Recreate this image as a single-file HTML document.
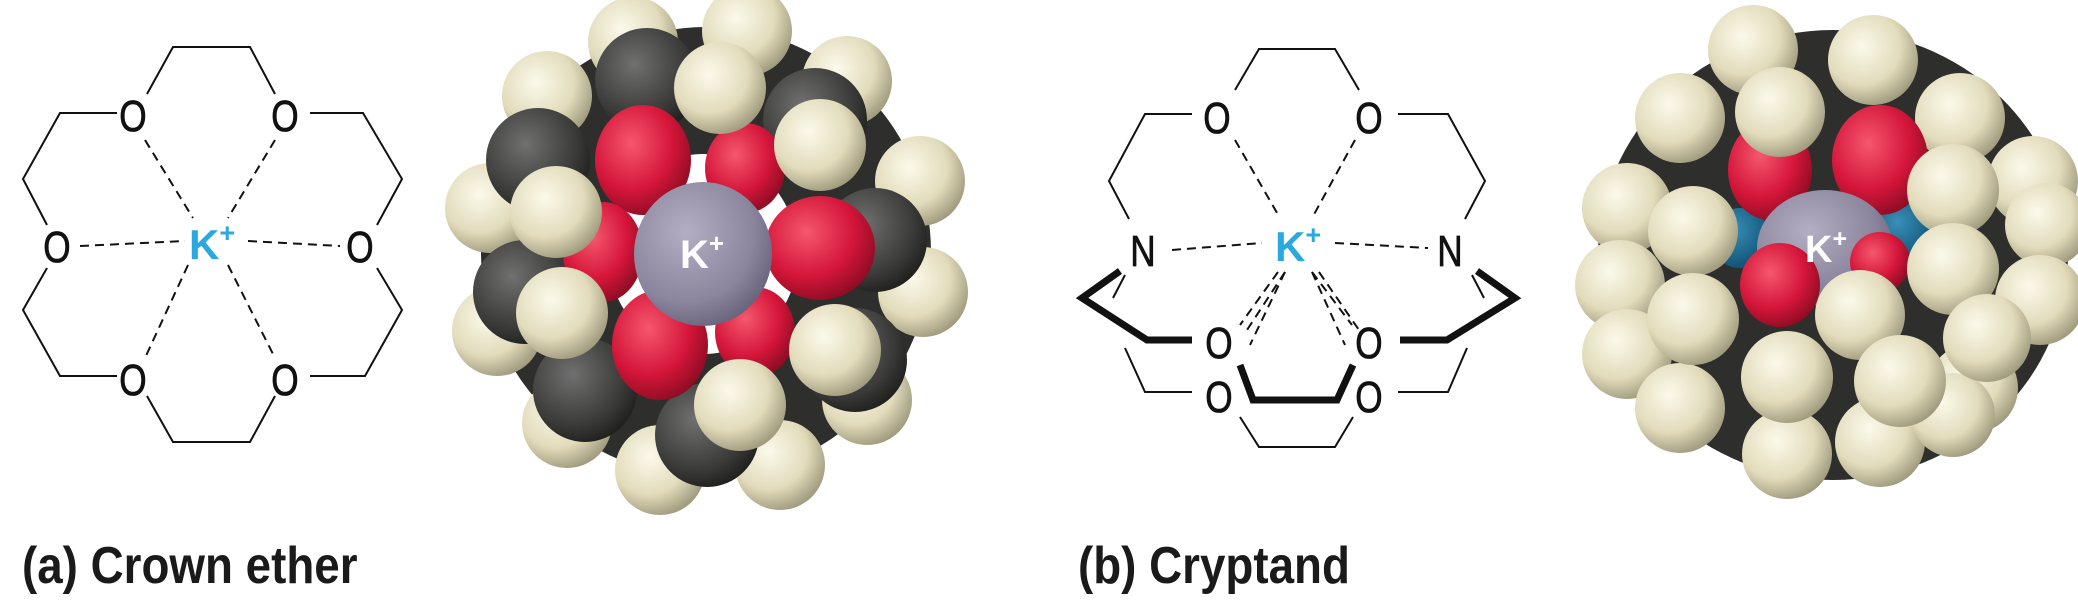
<!DOCTYPE html>
<html><head><meta charset="utf-8"><style>
html,body{margin:0;padding:0;background:#fff;width:2078px;height:600px;overflow:hidden}
svg{display:block}
.t{font-family:"Liberation Sans",sans-serif;font-size:44px;fill:#111;stroke:#111;stroke-width:0.8}
.k{font-family:"Liberation Sans",sans-serif;font-size:42px;font-weight:bold;fill:#29a9e0}
.lab{font-family:"Liberation Sans",sans-serif;font-size:52px;font-weight:bold;fill:#1a1a1a}
</style></head><body>
<svg width="2078" height="600" viewBox="0 0 2078 600" xmlns="http://www.w3.org/2000/svg">
<defs>
<radialGradient id="gH" cx="0.38" cy="0.35" r="0.7"><stop offset="0" stop-color="#fbf9ea"/><stop offset="0.6" stop-color="#e2dcbc"/><stop offset="1" stop-color="#9c967a"/></radialGradient>
<radialGradient id="gC" cx="0.38" cy="0.35" r="0.7"><stop offset="0" stop-color="#707070"/><stop offset="0.7" stop-color="#3a3a38"/><stop offset="1" stop-color="#1e1e1d"/></radialGradient>
<radialGradient id="gO" cx="0.38" cy="0.35" r="0.7"><stop offset="0" stop-color="#f5576e"/><stop offset="0.6" stop-color="#d5163a"/><stop offset="1" stop-color="#8a0c22"/></radialGradient>
<radialGradient id="gK" cx="0.38" cy="0.35" r="0.7"><stop offset="0" stop-color="#b4aec4"/><stop offset="0.7" stop-color="#8a859c"/><stop offset="1" stop-color="#66627a"/></radialGradient>
<radialGradient id="gN" cx="0.38" cy="0.35" r="0.7"><stop offset="0" stop-color="#3a8fb8"/><stop offset="1" stop-color="#0d4f72"/></radialGradient>
</defs>

<!-- Crown ether structure -->
<g fill="none" stroke="#111" stroke-width="2">
<polyline points="147,94 173,47 250,47 275,94"/>
<polyline points="117,113 60,113 23,179 47,225"/>
<polyline points="310,113 363,113 402,179 377,225"/>
<polyline points="47,268 23,310 60,376 117,376"/>
<polyline points="377,268 402,310 365,376 310,376"/>
<polyline points="147,396 173,442 250,442 275,396"/>
</g>
<g fill="none" stroke="#111" stroke-width="2" stroke-dasharray="9,6">
<line x1="80" y1="246" x2="185" y2="241"/>
<line x1="248" y1="241" x2="340" y2="246"/>
<line x1="145" y1="140" x2="193" y2="218"/>
<line x1="275" y1="140" x2="228" y2="218"/>
<line x1="188" y1="265" x2="145" y2="358"/>
<line x1="228" y1="265" x2="275" y2="358"/>
</g>
<g class="t" text-anchor="middle">
<text x="133" y="131" transform="translate(133,0) scale(0.8,1) translate(-133,0)">O</text>
<text x="285" y="131" transform="translate(285,0) scale(0.8,1) translate(-285,0)">O</text>
<text x="57" y="262" transform="translate(57,0) scale(0.8,1) translate(-57,0)">O</text>
<text x="360" y="262" transform="translate(360,0) scale(0.8,1) translate(-360,0)">O</text>
<text x="133" y="395" transform="translate(133,0) scale(0.8,1) translate(-133,0)">O</text>
<text x="285" y="395" transform="translate(285,0) scale(0.8,1) translate(-285,0)">O</text>
</g>
<text class="k" x="189" y="259">K<tspan font-size="27" dy="-17">+</tspan></text>

<!-- Crown ether model -->
<g>
<circle cx="706" cy="252" r="225" fill="#2e2e2c"/>
<circle cx="633" cy="42" r="45" fill="url(#gH)"/><circle cx="747" cy="31" r="45" fill="url(#gH)"/>
<circle cx="847" cy="81" r="45" fill="url(#gH)"/><circle cx="920" cy="181" r="45" fill="url(#gH)"/>
<circle cx="923" cy="292" r="45" fill="url(#gH)"/><circle cx="867" cy="400" r="45" fill="url(#gH)"/>
<circle cx="780" cy="465" r="45" fill="url(#gH)"/><circle cx="660" cy="470" r="45" fill="url(#gH)"/>
<circle cx="567" cy="423" r="45" fill="url(#gH)"/><circle cx="497" cy="331" r="45" fill="url(#gH)"/>
<circle cx="490" cy="208" r="45" fill="url(#gH)"/><circle cx="547" cy="96" r="45" fill="url(#gH)"/>
<circle cx="647" cy="80" r="52" fill="url(#gC)"/><circle cx="815" cy="120" r="52" fill="url(#gC)"/>
<circle cx="538" cy="160" r="52" fill="url(#gC)"/><circle cx="525" cy="292" r="52" fill="url(#gC)"/>
<circle cx="585" cy="390" r="52" fill="url(#gC)"/><circle cx="707" cy="435" r="52" fill="url(#gC)"/>
<circle cx="855" cy="360" r="52" fill="url(#gC)"/><circle cx="875" cy="240" r="52" fill="url(#gC)"/>
<ellipse cx="703" cy="254" rx="95" ry="100" fill="#fff"/>
<ellipse cx="643" cy="160" rx="48" ry="55" fill="url(#gO)"/><ellipse cx="745" cy="168" rx="40" ry="45" fill="url(#gO)"/>
<ellipse cx="603" cy="252" rx="40" ry="50" fill="url(#gO)"/><ellipse cx="820" cy="248" rx="55" ry="52" fill="url(#gO)"/>
<ellipse cx="660" cy="345" rx="48" ry="55" fill="url(#gO)"/><ellipse cx="755" cy="332" rx="40" ry="45" fill="url(#gO)"/>
<ellipse cx="703" cy="254" rx="69" ry="72" fill="url(#gK)"/>
<circle cx="720" cy="88" r="46" fill="url(#gH)"/><circle cx="820" cy="145" r="46" fill="url(#gH)"/>
<circle cx="556" cy="212" r="46" fill="url(#gH)"/><circle cx="562" cy="313" r="46" fill="url(#gH)"/>
<circle cx="835" cy="350" r="46" fill="url(#gH)"/><circle cx="740" cy="405" r="46" fill="url(#gH)"/>
<text x="680" y="268" font-family="Liberation Sans,sans-serif" font-weight="bold" font-size="40" fill="#fff">K<tspan font-size="26" dy="-16">+</tspan></text>
</g>

<!-- Cryptand structure -->
<g fill="none" stroke="#111" stroke-width="2">
<polyline points="1235,90 1259,49 1335,49 1359,90"/>
<polyline points="1192,114 1145,114 1109,181 1129,219"/>
<polyline points="1398,114 1448,114 1485,181 1465,219"/>
<polyline points="1125,348 1145,392 1192,392"/>
<polyline points="1467,348 1448,392 1398,392"/>
<polyline points="1240,417 1259,447 1335,447 1353,417"/>
<line x1="1125" y1="275" x2="1113" y2="298"/>
<line x1="1472" y1="275" x2="1484" y2="298"/>
</g>
<g fill="none" stroke="#111" stroke-width="7" stroke-linejoin="miter">
<polyline points="1120,271 1082,298 1147,340 1192,340"/>
<polyline points="1477,271 1515,298 1447,340 1400,340"/>
<polyline points="1240,365 1253,400 1337,400 1353,365"/>
</g>
<g fill="none" stroke="#111" stroke-width="2" stroke-dasharray="9,6">
<line x1="1172" y1="250" x2="1262" y2="243"/>
<line x1="1335" y1="243" x2="1428" y2="248"/>
<line x1="1235" y1="140" x2="1280" y2="218"/>
<line x1="1355" y1="140" x2="1312" y2="218"/>
<line x1="1278" y1="272" x2="1240" y2="325"/>
<line x1="1285" y1="272" x2="1247" y2="330"/>
<line x1="1312" y1="272" x2="1352" y2="325"/>
<line x1="1319" y1="272" x2="1359" y2="330"/>
<line x1="1285" y1="272" x2="1250" y2="345"/>
<line x1="1312" y1="272" x2="1345" y2="345"/>
</g>
<g class="t" text-anchor="middle">
<text x="1217" y="133" transform="translate(1217,0) scale(0.8,1) translate(-1217,0)">O</text>
<text x="1369" y="133" transform="translate(1369,0) scale(0.8,1) translate(-1369,0)">O</text>
<text x="1143" y="266" transform="translate(1143,0) scale(0.8,1) translate(-1143,0)">N</text>
<text x="1450" y="266" transform="translate(1450,0) scale(0.8,1) translate(-1450,0)">N</text>
<text x="1219" y="358" transform="translate(1219,0) scale(0.8,1) translate(-1219,0)">O</text>
<text x="1369" y="358" transform="translate(1369,0) scale(0.8,1) translate(-1369,0)">O</text>
<text x="1219" y="412" transform="translate(1219,0) scale(0.8,1) translate(-1219,0)">O</text>
<text x="1369" y="412" transform="translate(1369,0) scale(0.8,1) translate(-1369,0)">O</text>
</g>
<text class="k" x="1275" y="261">K<tspan font-size="27" dy="-17">+</tspan></text>

<!-- Cryptand model -->
<g>
<ellipse cx="1833" cy="255" rx="235" ry="225" fill="#2e2e2c"/>
<circle cx="1753" cy="50" r="45" fill="url(#gH)"/><circle cx="1873" cy="60" r="45" fill="url(#gH)"/>
<circle cx="1960" cy="118" r="45" fill="url(#gH)"/><circle cx="1680" cy="118" r="45" fill="url(#gH)"/>
<circle cx="2033" cy="181" r="45" fill="url(#gH)"/><circle cx="2047" cy="225" r="42" fill="url(#gH)"/>
<circle cx="2040" cy="300" r="45" fill="url(#gH)"/><circle cx="1627" cy="208" r="45" fill="url(#gH)"/>
<circle cx="1620" cy="285" r="45" fill="url(#gH)"/><circle cx="1627" cy="354" r="45" fill="url(#gH)"/>
<circle cx="1680" cy="408" r="45" fill="url(#gH)"/><circle cx="1787" cy="454" r="45" fill="url(#gH)"/>
<circle cx="1880" cy="442" r="45" fill="url(#gH)"/><circle cx="1973" cy="388" r="45" fill="url(#gH)"/>
<circle cx="1953" cy="415" r="42" fill="url(#gH)"/>
<circle cx="1740" cy="238" r="30" fill="url(#gN)"/><circle cx="1905" cy="231" r="30" fill="url(#gN)"/>
<ellipse cx="1770" cy="170" rx="42" ry="50" fill="url(#gO)"/><ellipse cx="1880" cy="160" rx="48" ry="55" fill="url(#gO)"/>
<ellipse cx="1825" cy="248" rx="68" ry="58" fill="url(#gK)"/>
<ellipse cx="1780" cy="285" rx="40" ry="42" fill="url(#gO)"/><ellipse cx="1880" cy="262" rx="30" ry="30" fill="url(#gO)"/>
<circle cx="1780" cy="112" r="45" fill="url(#gH)"/>
<circle cx="1953" cy="190" r="46" fill="url(#gH)"/>
<circle cx="1693" cy="231" r="45" fill="url(#gH)"/>
<circle cx="1953" cy="269" r="46" fill="url(#gH)"/>
<circle cx="1693" cy="319" r="46" fill="url(#gH)"/>
<circle cx="1860" cy="315" r="45" fill="url(#gH)"/>
<circle cx="1987" cy="338" r="44" fill="url(#gH)"/>
<circle cx="1787" cy="377" r="46" fill="url(#gH)"/>
<circle cx="1900" cy="381" r="46" fill="url(#gH)"/>
<text x="1805" y="262" font-family="Liberation Sans,sans-serif" font-weight="bold" font-size="38" fill="#fff">K<tspan font-size="25" dy="-15">+</tspan></text>
</g>

<text class="lab" x="22" y="583" transform="translate(22,0) scale(0.88,1) translate(-22,0)">(a) Crown ether</text>
<text class="lab" x="1078" y="583" transform="translate(1078,0) scale(0.88,1) translate(-1078,0)">(b) Cryptand</text>
</svg>
</body></html>
